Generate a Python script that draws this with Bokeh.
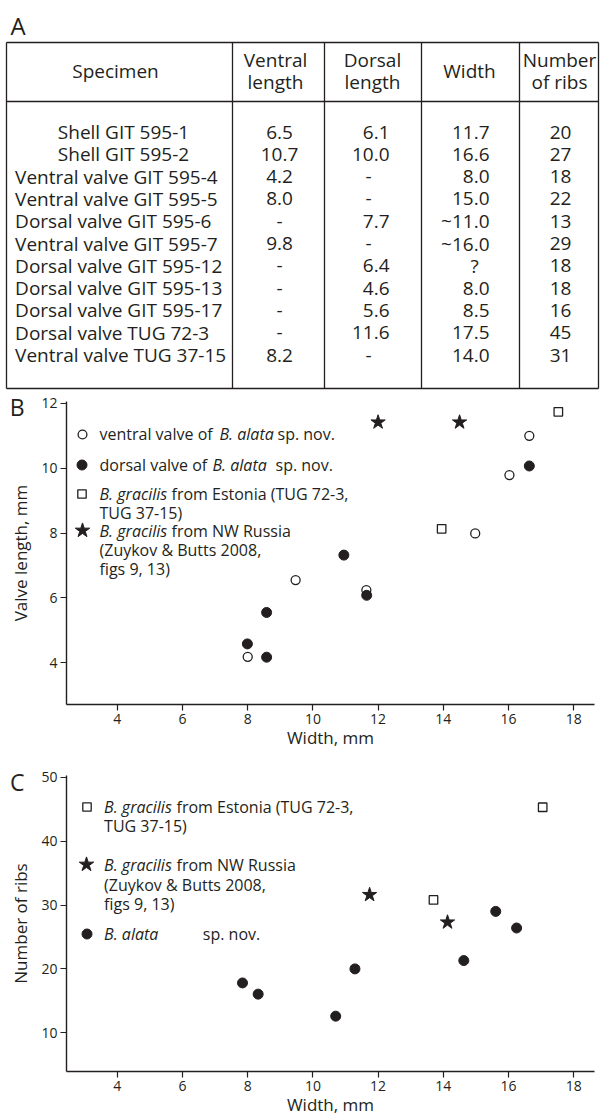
from bokeh.plotting import figure
from bokeh.layouts import column
from bokeh.models import Range1d, Label, FixedTicker, Legend, LegendItem, LinearAxis
from bokeh.embed import file_html
from bokeh.resources import INLINE
from bokeh.core.properties import value

FONT = "Open Sans"
INK = "#231f20"

# ---------------- data: table A ----------------
header_lines = [["Specimen"], ["Ventral", "length"], ["Dorsal", "length"], ["Width"], ["Number", "of ribs"]]
specimens = ["Shell GIT 595-1", "Shell GIT 595-2", "Ventral valve GIT 595-4", "Ventral valve GIT 595-5",
             "Dorsal valve GIT 595-6", "Ventral valve GIT 595-7", "Dorsal valve GIT 595-12",
             "Dorsal valve GIT 595-13", "Dorsal valve GIT 595-17", "Dorsal valve TUG 72-3",
             "Ventral valve TUG 37-15"]
ventral_length = ["6.5", "10.7", "4.2", "8.0", "-", "9.8", "-", "-", "-", "-", "8.2"]
dorsal_length = ["6.1", "10.0", "-", "-", "7.7", "-", "6.4", "4.6", "5.6", "11.6", "-"]
width_mm = ["11.7", "16.6", "8.0", "15.0", "~11.0", "~16.0", "?", "8.0", "8.5", "17.5", "14.0"]
rib_count = ["20", "27", "18", "22", "13", "29", "18", "18", "16", "45", "31"]

# ---------------- data: plot B (width vs valve length) ----------------
b_ventral_width = [8.0, 9.47, 11.64, 14.98, 16.03, 16.64]
b_ventral_length = [4.18, 6.55, 6.24, 7.99, 9.79, 11.0]
b_dorsal_width = [7.99, 8.58, 8.58, 10.95, 11.65, 16.64]
b_dorsal_length = [4.58, 4.17, 5.55, 7.32, 6.08, 10.07]
b_estonia_width = [13.95, 17.53]
b_estonia_length = [8.13, 11.74]
b_russia_width = [12.0, 14.5]
b_russia_length = [11.42, 11.42]

# ---------------- data: plot C (width vs number of ribs) ----------------
c_estonia_width = [13.7, 17.05]
c_estonia_ribs = [30.8, 45.3]
c_russia_width = [11.74, 14.13]
c_russia_ribs = [31.6, 27.3]
c_alata_width = [7.84, 8.32, 10.7, 11.29, 14.63, 15.61, 16.25]
c_alata_ribs = [17.8, 16.05, 12.6, 20.0, 21.3, 29.0, 26.4]

x_ticks = [4, 6, 8, 10, 12, 14, 16, 18]
b_y_ticks = [4, 6, 8, 10, 12]
c_y_ticks = [10, 20, 30, 40, 50]


def no_align(p):
    if "frame_align" in p.properties():
        p.frame_align = False


# ---------------- table figure ----------------
TW, TH = 602, 390
tbl = figure(width=TW, height=TH, x_range=Range1d(0, TW), y_range=Range1d(TH, 0),
             output_backend="svg", toolbar_location=None, min_border=0,
             min_border_left=0, min_border_right=0, min_border_top=0, min_border_bottom=0,
             x_axis_type=None, y_axis_type=None, outline_line_color=None)
no_align(tbl)

t_left, t_right, t_top, t_head, t_bottom = 6, 598, 42, 101, 388
col_lines = [232, 324, 421, 519]
sx0 = [t_left, t_left, t_left, t_left, t_right] + col_lines
sy0 = [t_top, t_head, t_bottom, t_top, t_top] + [t_top] * 4
sx1 = [t_right, t_right, t_right, t_left, t_right] + col_lines
sy1 = [t_top, t_head, t_bottom, t_bottom, t_bottom] + [t_bottom] * 4
tbl.segment(sx0, sy0, sx1, sy1, line_color=INK, line_width=1.3)

TFS = "19px"


def ttext(xs, ys, texts, align, size=TFS):
    tbl.text(x=xs, y=ys, text=texts, text_font=value(FONT), text_font_size=size,
             text_align=align, text_baseline="alphabetic", text_color=INK)


ttext([10], [25], ["A"], "left", size="24px")

# headers
head_x = [115, 275, 372, 469, 559]
hx, hy, ht = [], [], []
for cx, lines in zip(head_x, header_lines):
    if len(lines) == 1:
        hx.append(cx); hy.append(70); ht.append(lines[0])
    else:
        hx += [cx, cx]; hy += [59.5, 81]; ht += lines
ttext(hx, hy, ht, "center")

row_y = [131.5 + 22.3 * i for i in range(len(specimens))]
ttext([123, 123], row_y[:2], specimens[:2], "center")
ttext([14.6] * (len(specimens) - 2), row_y[2:], specimens[2:], "left")
ttext([279] * len(ventral_length), row_y, ventral_length, "center")
dn = [(y, t) for y, t in zip(row_y, dorsal_length) if t != "-"]
dd = [(y, t) for y, t in zip(row_y, dorsal_length) if t == "-"]
ttext([389] * len(dn), [y for y, _ in dn], [t for _, t in dn], "right")
ttext([368] * len(dd), [y for y, _ in dd], [t for _, t in dd], "center")
wn = [(y, t) for y, t in zip(row_y, width_mm) if t != "?"]
wq = [(y, t) for y, t in zip(row_y, width_mm) if t == "?"]
ttext([489] * len(wn), [y for y, _ in wn], [t for _, t in wn], "right")
ttext([474] * len(wq), [y for y, _ in wq], [t for _, t in wq], "center")
ttext([560] * len(rib_count), row_y, rib_count, "center")


# ---------------- helpers for plots ----------------
def make_plot(height, b_top, b_bottom, yr, yticks, ylabel, letter, letter_at):
    p = figure(width=602, height=height, x_range=Range1d(2.44, 18.64), y_range=Range1d(*yr),
               output_backend="svg", toolbar_location=None,
               min_border_left=66, min_border_right=8, min_border_top=b_top, min_border_bottom=b_bottom)
    no_align(p)
    p.outline_line_color = None
    p.grid.visible = False
    p.xaxis.ticker = FixedTicker(ticks=x_ticks)
    p.yaxis.ticker = FixedTicker(ticks=yticks)
    for ax in (p.xaxis[0], p.yaxis[0]):
        ax.axis_line_color = INK
        ax.axis_line_width = 1.4
        ax.major_tick_line_color = INK
        ax.major_tick_line_width = 1.2
        ax.major_tick_out = 6
        ax.major_tick_in = 0
        ax.minor_tick_line_color = None
        ax.major_label_text_font = FONT
        ax.major_label_text_font_size = "14px"
        ax.major_label_text_color = INK
        ax.axis_label_text_font = FONT
        ax.axis_label_text_font_size = "17px"
        ax.axis_label_text_font_style = "normal"
        ax.axis_label_text_color = INK
    p.xaxis.major_label_standoff = 3
    p.yaxis.major_label_standoff = 3
    p.xaxis.axis_label = "Width, mm"
    p.xaxis.axis_label_standoff = -1
    p.yaxis.axis_label = ylabel
    p.yaxis.axis_label_standoff = 6
    # panel letter drawn as the single tick label of an outer, invisible axis
    lax = LinearAxis(ticker=FixedTicker(ticks=[letter_at]), major_label_overrides={letter_at: letter},
                     axis_line_color=None, major_tick_line_color=None, minor_tick_line_color=None,
                     major_tick_out=0, major_tick_in=0, major_label_standoff=-18,
                     major_label_text_font=FONT, major_label_text_font_size="23px",
                     major_label_text_color=INK)
    p.add_layout(lax, "left")
    return p


def lab(p, x, y, text, size="16px", style="normal", align="left", baseline="middle"):
    p.add_layout(Label(x=x, y=y, x_units="screen", y_units="screen", text=text, text_font=FONT,
                       text_font_size=size, text_font_style=style, text_align=align,
                       text_baseline=baseline, text_color=INK))


def swatch(p, r, cx, cy, size):
    box = int(round(size / 0.4))
    leg = Legend(items=[LegendItem(label=" ", renderers=[r])],
                 location=(cx - box / 2, cy - box / 2), padding=0, margin=0, spacing=0,
                 glyph_width=box, glyph_height=box, label_width=0, label_height=box,
                 label_standoff=0, border_line_color=None, background_fill_alpha=0,
                 label_text_font_size="1px", inactive_fill_alpha=0)
    p.add_layout(leg)


# ---------------- plot B ----------------
pb = make_plot(364, 11, 50, (2.71, 12.06), b_y_ticks, "Valve length, mm", "B", 11.88)
r_bv = pb.scatter(b_ventral_width, b_ventral_length, marker="circle", size=9,
                  fill_color=None, line_color=INK, line_width=1.3)
r_bd = pb.scatter(b_dorsal_width, b_dorsal_length, marker="circle", size=10,
                  fill_color=INK, line_color=INK)
r_be = pb.scatter(b_estonia_width, b_estonia_length, marker="square", size=8.5,
                  fill_color=None, line_color=INK, line_width=1.3)
r_br = pb.scatter(b_russia_width, b_russia_length, marker="star", size=15,
                  fill_color=INK, line_color=INK)

swatch(pb, r_bv, 15.8, 270.3, 9)
swatch(pb, r_bd, 15.8, 239.6, 10)
swatch(pb, r_be, 15.8, 210.3, 8.5)
swatch(pb, r_br, 15.8, 173.6, 15)

lab(pb, 33, 270.3, "ventral valve of")
lab(pb, 153, 270.3, "B. alata", style="italic")
lab(pb, 211, 270.3, "sp. nov.")
lab(pb, 33, 239.6, "dorsal valve of")
lab(pb, 146, 239.6, "B. alata", style="italic")
lab(pb, 209, 239.6, "sp. nov.")
lab(pb, 33, 210.3, "B. gracilis", style="italic")
lab(pb, 105, 210.3, "from Estonia (TUG 72-3,")
lab(pb, 33, 192, "TUG 37-15)")
lab(pb, 33, 173.6, "B. gracilis", style="italic")
lab(pb, 105, 173.6, "from NW Russia")
lab(pb, 33, 155, "(Zuykov & Butts 2008,")
lab(pb, 33, 135.5, "figs 9, 13)")

# ---------------- plot C ----------------
pc = make_plot(364, 21, 47, (3.94, 50.27), c_y_ticks, "Number of ribs", "C", 49.33)
r_ce = pc.scatter(c_estonia_width, c_estonia_ribs, marker="square", size=8.5,
                  fill_color=None, line_color=INK, line_width=1.3)
r_cr = pc.scatter(c_russia_width, c_russia_ribs, marker="star", size=15,
                  fill_color=INK, line_color=INK)
r_ca = pc.scatter(c_alata_width, c_alata_ribs, marker="circle", size=10,
                  fill_color=INK, line_color=INK)

swatch(pc, r_ce, 20.4, 265, 8.5)
swatch(pc, r_cr, 20.4, 207, 15)
swatch(pc, r_ca, 20.4, 138, 10)

lab(pc, 37.6, 265, "B. gracilis", style="italic")
lab(pc, 110, 265, "from Estonia (TUG 72-3,")
lab(pc, 37.6, 246, "TUG 37-15)")
lab(pc, 37.6, 207, "B. gracilis", style="italic")
lab(pc, 110, 207, "from NW Russia")
lab(pc, 37.6, 187, "(Zuykov & Butts 2008,")
lab(pc, 37.6, 168, "figs 9, 13)")
lab(pc, 37.6, 138, "B. alata", style="italic")
lab(pc, 136.3, 138, "sp. nov.")

layout = column(tbl, pb, pc, spacing=0)
open("out.html", "w").write(file_html(layout, INLINE))
